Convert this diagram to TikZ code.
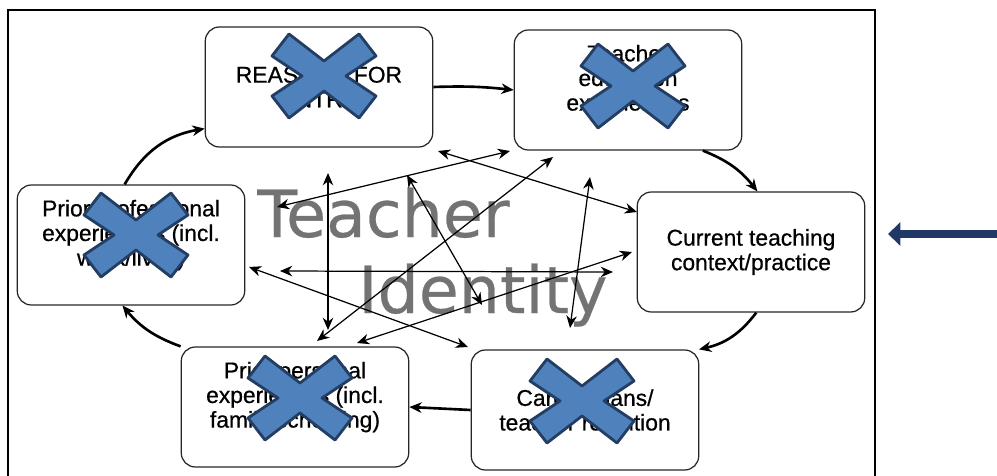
\documentclass[tikz,border=0pt]{standalone}
\usepackage{fontspec}
\setmainfont{Liberation Sans}
\newfontfamily\boxfont{Liberation Sans}[FakeBold=0.6]
\newfontfamily\identfont{DejaVu Sans}[FakeBold=0.4]
\usetikzlibrary{arrows.meta}
\definecolor{crossfill}{RGB}{79,129,189}
\definecolor{crossline}{RGB}{35,62,98}
\definecolor{navy}{RGB}{32,56,100}
\newcommand{\bluecross}[1]{\draw[bluex,shift={#1}] (0,-15)--(35,-42)--(52,-20)--(22,0)--(52,20)--(35,42)--(0,15)--(-35,42)--(-52,20)--(-22,0)--(-52,-20)--(-35,-42)--cycle;}
\begin{document}
\begin{tikzpicture}[x=0.02cm,y=-0.02cm,>={Stealth[length=7pt,width=6pt]},
    box/.style={draw=black!85,line width=0.7pt,rounded corners=8pt,minimum width=4.55cm,minimum height=2.4cm,align=center,font=\boxfont\fontsize{13}{14}\selectfont},
    raised/.style={text depth=14pt},
    ring/.style={->,line width=1.5pt,bend left=20},
    link/.style={<->,line width=0.7pt},
    bigword/.style={anchor=base west,inner sep=0pt,text=black!55,font=\identfont\fontsize{37}{37}\selectfont},
    bluex/.style={fill=crossfill,draw=crossline,line width=1.6pt,line join=round}]
\useasboundingbox (0,0) rectangle (997,476);
\draw[line width=1.2pt] (8,477)--(8,10)--(875,10)--(875,477);
\node[bigword] (teacher) at (257,237) {Teacher};
\node[bigword] (identity) at (358,313) {Identity};
% the six boxes
\node[box] (reasons) at (319,87) {REASONS FOR\\ENTRY};
\node[box,raised] (educ) at (628,90) {Teacher\\education\\experiences};
\node[box,raised] (prof) at (131,245) {Prior professional\\experiences (incl.\\work/lives)};
\node[box] (current) at (751,252) {Current teaching\\context/practice};
\node[box,raised] (personal) at (295,407) {Prior personal\\experiences (incl.\\family/schooling)};
\node[box] (career) at (585,410) {Career plans/\\teacher retention};
% outer cycle
\draw[ring,bend left=25] (prof.96) to (reasons.200);
\draw[ring,bend left=4] (reasons.east) to (educ.west);
\draw[ring,bend left=15] (educ.321) to (current.84);
\draw[ring] (current.275) to (career.28);
\draw[ring,bend left=0] (career.west) to (personal.east);
\draw[ring,bend left=15] (personal.north west) to (prof.262);
% links across the middle
\coordinate (a1) at (328,173); \coordinate (a2) at (328,330);
\coordinate (b1) at (277,207); \coordinate (b2) at (510,151);
\coordinate (c1) at (438,151); \coordinate (c2) at (637,212);
\coordinate (d1) at (407,175); \coordinate (d2) at (482,305);
\coordinate (e1) at (357,343); \coordinate (e2) at (632,252);
\coordinate (f1) at (590,177); \coordinate (f2) at (570,328);
\coordinate (g1) at (317,341); \coordinate (g2) at (553,157);
\coordinate (h1) at (280,271); \coordinate (h2) at (613,272);
\coordinate (i1) at (249,267); \coordinate (i2) at (468,347);
\foreach \s in {a,b,c,d,e,f,g,h,i}
    \draw[link] (\s1)--(\s2);
% crosses
\bluecross{(324,76)}
\bluecross{(633,86)}
\bluecross{(136,235)}
\bluecross{(300,398)}
\bluecross{(582,401)}
% pointer
\coordinate (pointer) at (997,234);
\coordinate (pointertip) at (888,234);
\draw[navy,line width=4.5pt,-{Triangle[length=7pt,width=13pt]}] (pointer)--(pointertip);
\end{tikzpicture}
\end{document}
